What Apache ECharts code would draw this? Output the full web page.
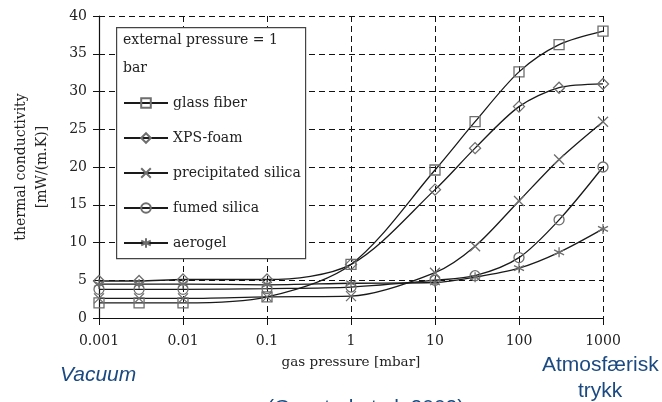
<!DOCTYPE html>
<html lang="en">

<head>
    <meta charset="UTF-8" />
    <title>thermal conductivity vs gas pressure</title>
    <script src="https://cdn.jsdelivr.net/npm/echarts@6/dist/echarts.min.js"></script>
    <style>
        html, body { margin: 0; padding: 0; background: #fff; }
    </style>
</head>

<body>
    <div id="main" style="width: 662px;height:402px;"></div>
</body>
<script>
    // gas pressure [mbar] where the markers sit
    var pressure = [0.001, 0.003, 0.01, 0.1, 1, 10, 30, 100, 300, 1000];
    // thermal conductivity [mW/(m.K)]
    var glassFiber = [2, 2, 2, 2.8, 7.1, 19.6, 26, 32.6, 36.2, 38];
    var xpsFoam = [4.9, 4.9, 5.1, 5.1, 7.1, 17, 22.5, 28, 30.5, 31];
    var precipitatedSilica = [2.6, 2.6, 2.6, 2.8, 2.9, 6, 9.5, 15.5, 21, 26];
    var fumedSilica = [3.8, 3.8, 3.8, 3.9, 4.1, 5, 5.6, 8, 13, 20];
    var aerogel = [4.5, 4.5, 4.5, 4.4, 4.6, 4.7, 5.4, 6.6, 8.7, 11.8];
    var xTicks = ['0.001', '0.01', '0.1', '1', '10', '100', '1000'];

    var serif = 'DejaVu Serif';
    var lineColor = '#1a1a1a';
    var markColor = '#6e6e6e';
    var blue = '#1b4a82';

    function pairs(ys) {
        var out = [];
        for (var i = 0; i < pressure.length; i++) {
            out.push([pressure[i], ys[i]]);
        }
        return out;
    }

    function makeSeries(name, ys, symbol, size) {
        return {
            name: name,
            type: 'line',
            data: pairs(ys),
            smooth: 0.3,
            symbol: symbol,
            symbolSize: size,
            showAllSymbol: true,
            lineStyle: { color: lineColor, width: 1.3 },
            itemStyle: { color: 'transparent', borderColor: markColor, borderWidth: 1.3 },
            emphasis: { disabled: true },
            z: 2
        };
    }

    var myChart = echarts.init(document.getElementById('main'));

    var option = {
        animation: false,
        backgroundColor: '#fff',
        grid: { left: 99, right: 59, top: 16, bottom: 84 },
        legend: {
            orient: 'vertical',
            left: 118,
            top: 91,
            itemWidth: 44,
            itemHeight: 12,
            itemGap: 21,
            z: 5,
            textStyle: { fontFamily: serif, fontSize: 14, color: '#222' },
            data: ['glass fiber', 'XPS-foam', 'precipitated silica', 'fumed silica', 'aerogel']
        },
        xAxis: {
            type: 'log',
            logBase: 10,
            min: 0.001,
            max: 1000,
            name: 'gas pressure [mbar]',
            nameLocation: 'middle',
            nameGap: 37,
            nameTextStyle: { fontFamily: serif, fontSize: 13.5, color: '#222' },
            axisLine: { lineStyle: { color: '#111', width: 1.2 } },
            axisTick: { length: 7, lineStyle: { color: '#111' } },
            minorTick: { show: false },
            axisLabel: {
                margin: 16,
                fontFamily: serif,
                fontSize: 14,
                color: '#222',
                formatter: function (v) {
                    var e = Math.round(Math.log(v) / Math.LN10);
                    return xTicks[e + 3];
                }
            },
            splitLine: { show: true, lineStyle: { color: '#111', type: [6, 4], width: 1 } }
        },
        yAxis: {
            type: 'value',
            min: 0,
            max: 40,
            interval: 5,
            name: 'thermal conductivity\n[mW/(m.K)]',
            nameLocation: 'middle',
            nameRotate: 90,
            nameGap: 46,
            nameTextStyle: { fontFamily: serif, fontSize: 14, color: '#222', lineHeight: 21 },
            axisLine: { show: true, lineStyle: { color: '#111', width: 1.2 } },
            axisTick: { show: true, length: 6, lineStyle: { color: '#111' } },
            axisLabel: { margin: 12, fontFamily: serif, fontSize: 14, color: '#222' },
            splitLine: { show: true, lineStyle: { color: '#111', type: [6, 4], width: 1 } }
        },
        graphic: [
            {
                type: 'rect', left: 116, top: 27, z: 3,
                shape: { width: 189, height: 231 },
                style: { fill: '#fff', stroke: '#444', lineWidth: 1.2 }
            },
            {
                type: 'text', left: 123, top: 33, z: 4,
                style: { text: 'external pressure = 1', font: '14px "DejaVu Serif"', fill: '#222' }
            },
            {
                type: 'text', left: 123, top: 61, z: 4,
                style: { text: 'bar', font: '14px "DejaVu Serif"', fill: '#222' }
            },
            {
                type: 'text', left: 60, top: 365, z: 4,
                style: { text: 'Vacuum', font: 'italic 21px "Liberation Sans"', fill: blue }
            },
            {
                type: 'text', left: 542, top: 355, z: 4,
                style: { text: 'Atmosfærisk', font: '21px "Liberation Sans"', fill: blue }
            },
            {
                type: 'text', left: 578, top: 381, z: 4,
                style: { text: 'trykk', font: '21px "Liberation Sans"', fill: blue }
            },
            {
                type: 'text', left: 267, top: 398, z: 4,
                style: { text: '(Gaustad et al. 2002)', font: '21px "Liberation Sans"', fill: blue }
            }
        ],
        series: [
            makeSeries('glass fiber', glassFiber, 'rect', 10),
            makeSeries('XPS-foam', xpsFoam, 'diamond', 11),
            makeSeries('precipitated silica', precipitatedSilica, 'path://M0,0L10,10M10,0L0,10', 10),
            makeSeries('fumed silica', fumedSilica, 'circle', 10),
            makeSeries('aerogel', aerogel, 'path://M5,0L5,10M0.7,2.5L9.3,7.5M9.3,2.5L0.7,7.5', 10)
        ]
    };

    myChart.setOption(option);
</script>

</html>
